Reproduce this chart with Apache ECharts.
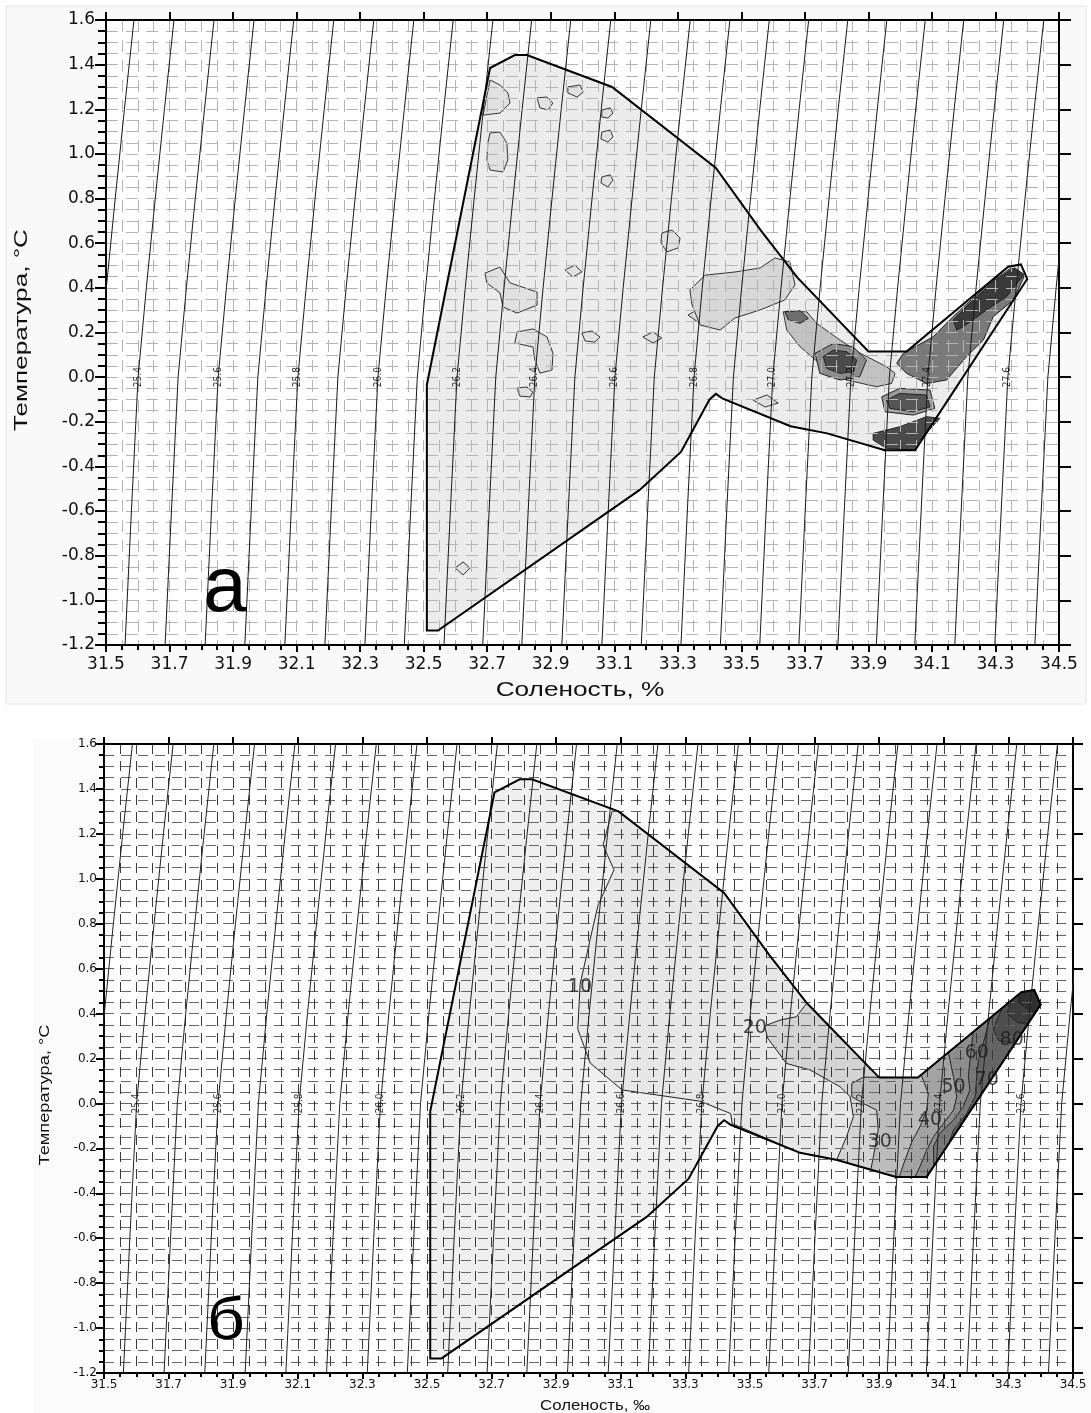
<!DOCTYPE html>
<html><head><meta charset="utf-8">
<script src="https://cdn.jsdelivr.net/npm/echarts@6/dist/echarts.min.js"></script>
<style>html,body{margin:0;padding:0;background:#fff}#c{width:1091px;height:1413px}</style>
</head><body><div id="c"></div>
<script>
// ---------- DATA ----------
const salinityExtent = [31.5, 34.5];
const temperatureExtent = [-1.2, 1.6];
const sigmaLevels = [25.3,25.4,25.5,25.6,25.7,25.8,25.9,26.0,26.1,26.2,26.3,26.4,26.5,26.6,26.7,26.8,26.9,27.0,27.1,27.2,27.3,27.4,27.5,27.6,27.7];
// salinity at T = 0 for each isopycnal
const sigmaS0 = [31.475,31.601,31.727,31.853,31.978,32.104,32.230,32.356,32.480,32.605,32.727,32.850,32.976,33.102,33.226,33.351,33.475,33.599,33.722,33.845,33.966,34.087,34.213,34.339,34.465];
// isopycnal shape: salinity shift vs temperature
const profileT  = [-1.2, -0.6, 0, 0.4, 0.8, 1.2, 1.6];
const profileDS = [-0.041, -0.021, 0, 0.026, 0.054, 0.083, 0.113];
const labeledSigmas = ['25.4','25.6','25.8','26.0','26.2','26.4','26.6','26.8','27.0','27.2','27.4','27.6'];

// outline of the data cloud (S, T)
const hull = [[32.51,-1.135],[32.545,-1.135],[33.18,-0.505],[33.31,-0.335],[33.40,-0.10],[33.42,-0.075],[33.44,-0.095],[33.655,-0.22],[33.77,-0.252],[33.952,-0.327],[34.047,-0.327],[34.40,0.44],[34.38,0.505],[34.34,0.495],[34.02,0.115],[33.90,0.115],[33.676,0.447],[33.56,0.66],[33.42,0.937],[33.093,1.30],[32.825,1.443],[32.787,1.443],[32.709,1.385],[32.51,-0.035]];

// panel "а": small contour patches
const patchA = [[32.709,1.094],[32.740,1.098],[32.762,1.049],[32.765,0.973],[32.750,0.919],[32.709,0.928],[32.699,0.973],[32.702,1.049]];
const patchB = [[32.709,1.331],[32.740,1.309],[32.765,1.273],[32.772,1.228],[32.740,1.183],[32.687,1.174]];
const patchC = [[32.857,1.251],[32.888,1.255],[32.907,1.228],[32.891,1.197],[32.866,1.206]];
const patchD = [[32.954,1.30],[32.992,1.309],[33.002,1.277],[32.983,1.255],[32.954,1.273]];
const patchE = [[33.061,1.197],[33.087,1.206],[33.096,1.183],[33.080,1.161],[33.061,1.165]];
const patchF = [[33.061,1.098],[33.087,1.107],[33.096,1.076],[33.080,1.053],[33.058,1.067]];
const patchG = [[33.061,0.897],[33.087,0.906],[33.096,0.883],[33.080,0.852],[33.058,0.870]];
const patchH = [[33.250,0.646],[33.282,0.659],[33.307,0.623],[33.301,0.579],[33.266,0.561],[33.247,0.601]];
const patchI = [[32.693,0.466],[32.740,0.493],[32.772,0.422],[32.857,0.381],[32.857,0.323],[32.794,0.287],[32.750,0.314],[32.740,0.377],[32.699,0.422]];
const patchJ = [[32.945,0.480],[32.976,0.502],[32.998,0.471],[32.970,0.449]];
const patchK = [[32.794,0.202],[32.844,0.216],[32.888,0.180],[32.907,0.108],[32.904,0.032],[32.866,0.018],[32.850,0.077],[32.844,0.135],[32.787,0.153]];
const patchL = [[32.794,-0.049],[32.825,-0.044],[32.844,-0.067],[32.835,-0.089],[32.803,-0.085]];
const patchM = [[32.998,0.198],[33.030,0.207],[33.055,0.180],[33.039,0.157],[33.008,0.162]];
const patchN = [[33.190,0.180],[33.222,0.202],[33.250,0.175],[33.222,0.153]];
const patchO = [[33.332,0.278],[33.370,0.310],[33.411,0.287],[33.401,0.247],[33.376,0.234]];
const patchP = [[33.537,-0.103],[33.581,-0.080],[33.616,-0.116],[33.575,-0.134]];
const patchQ = [[32.599,-0.855],[32.624,-0.828],[32.646,-0.855],[32.624,-0.886]];
const troughLight = [[33.338,0.390],[33.386,0.457],[33.480,0.471],[33.559,0.489],[33.606,0.534],[33.653,0.516],[33.669,0.413],[33.637,0.346],[33.559,0.301],[33.480,0.265],[33.433,0.211],[33.370,0.234],[33.345,0.323]];
const troughBand = [[33.632,0.293],[33.706,0.293],[33.737,0.241],[33.811,0.166],[33.874,0.107],[33.957,0.047],[33.984,0.017],[33.973,-0.028],[33.926,-0.043],[33.832,-0.013],[33.758,0.047],[33.685,0.136],[33.643,0.211]];
const troughRing = [[33.732,0.107],[33.790,0.151],[33.852,0.136],[33.894,0.077],[33.873,0.002],[33.811,-0.013],[33.747,0.017]];
const troughCore = [[33.758,0.092],[33.790,0.121],[33.832,0.114],[33.863,0.077],[33.853,0.024],[33.811,0.017],[33.769,0.039]];
const troughUpper = [[33.637,0.293],[33.685,0.298],[33.711,0.263],[33.685,0.241],[33.648,0.256]];
const armBand = [[34.010,0.107],[34.104,0.181],[34.167,0.271],[34.28,0.42],[34.35,0.49],[34.39,0.45],[34.356,0.345],[34.293,0.271],[34.262,0.166],[34.209,0.092],[34.146,-0.013],[34.083,-0.028],[34.020,0.017],[33.989,0.062]];
const armTip = [[34.167,0.256],[34.209,0.316],[34.29,0.425],[34.36,0.49],[34.39,0.46],[34.335,0.360],[34.272,0.301],[34.199,0.226],[34.178,0.211]];
const midRing = [[33.942,-0.088],[33.999,-0.050],[34.094,-0.058],[34.109,-0.140],[34.041,-0.170],[33.952,-0.155]];
const midCore = [[33.957,-0.103],[33.999,-0.073],[34.083,-0.080],[34.094,-0.133],[34.041,-0.155],[33.968,-0.14]];
const lowCore = [[33.915,-0.252],[33.999,-0.222],[34.083,-0.177],[34.125,-0.185],[34.062,-0.282],[34.041,-0.327],[33.957,-0.319],[33.915,-0.282]];

// panel "б": regions above each contour level
const region10 = [[33.073,1.30],[33.045,1.15],[33.079,1.04],[33.029,0.88],[33.005,0.73],[32.974,0.53],[32.967,0.33],[33.005,0.18],[33.104,0.06],[33.345,0.01],[33.44,-0.045],[33.445,-0.09],[33.655,-0.22],[33.77,-0.252],[33.952,-0.327],[34.047,-0.327],[34.40,0.44],[34.38,0.505],[34.34,0.495],[34.02,0.115],[33.90,0.115],[33.676,0.447],[33.56,0.66],[33.42,0.937],[33.093,1.30]];
const region20 = [[33.675,0.445],[33.644,0.386],[33.593,0.371],[33.545,0.345],[33.555,0.29],[33.613,0.178],[33.686,0.149],[33.779,0.074],[33.810,0.030],[33.820,-0.059],[33.799,-0.148],[33.768,-0.252],[33.952,-0.327],[34.047,-0.327],[34.40,0.44],[34.38,0.505],[34.34,0.495],[34.02,0.115],[33.90,0.115]];
const region30 = [[33.851,0.117],[33.815,0.089],[33.815,0.030],[33.851,0.0],[33.892,-0.030],[33.897,-0.118],[33.882,-0.237],[33.874,-0.295],[33.952,-0.327],[34.047,-0.327],[34.40,0.44],[34.38,0.505],[34.34,0.495],[34.02,0.115]];
const region40 = [[34.03,0.127],[34.052,0.045],[34.047,-0.030],[34.026,-0.104],[34.001,-0.171],[33.980,-0.252],[33.962,-0.327],[34.047,-0.327],[34.40,0.44],[34.38,0.505],[34.34,0.495]];
const region50 = [[34.114,0.227],[34.130,0.119],[34.140,0.030],[34.130,-0.030],[34.099,-0.089],[34.068,-0.148],[34.047,-0.208],[34.026,-0.282],[34.011,-0.327],[34.047,-0.327],[34.40,0.44],[34.38,0.505],[34.34,0.495]];
const region60 = [[34.191,0.318],[34.181,0.193],[34.176,0.119],[34.181,0.060],[34.160,-0.015],[34.130,-0.074],[34.088,-0.133],[34.068,-0.193],[34.069,-0.28],[34.40,0.44],[34.38,0.505],[34.34,0.495]];
const region70 = [[34.243,0.380],[34.222,0.267],[34.207,0.193],[34.202,0.119],[34.197,0.030],[34.171,-0.045],[34.130,-0.119],[34.116,-0.178],[34.40,0.44],[34.38,0.505],[34.34,0.495]];
const region80 = [[34.28,0.424],[34.253,0.33],[34.27,0.28],[34.32,0.267],[34.40,0.44],[34.38,0.505],[34.34,0.495]];
const region90 = [[34.31,0.459],[34.295,0.40],[34.33,0.36],[34.36,0.353],[34.40,0.44],[34.38,0.505],[34.34,0.495]];
const region100 = [[34.335,0.489],[34.33,0.45],[34.36,0.42],[34.385,0.405],[34.40,0.44],[34.38,0.505]];
const contourLabelText = ['10','20','30','40','50','60','70','80'];
const contourLabelS = [32.974, 33.515, 33.902, 34.057, 34.130, 34.202, 34.233, 34.310];
const contourLabelT = [0.52, 0.334, -0.170, -0.074, 0.074, 0.223, 0.104, 0.282];

// ---------- STYLE ----------
const topLayers = [
  [hull,'#ececec','none',0],
  [patchA,'#e1e1e1','#333',1],[patchB,'#e1e1e1','#333',1],[patchC,'#e1e1e1','#333',1],[patchD,'#e1e1e1','#333',1],
  [patchE,'#e1e1e1','#333',1],[patchF,'#e1e1e1','#333',1],[patchG,'#e1e1e1','#333',1],[patchH,'#e1e1e1','#333',1],
  [patchI,'#e1e1e1','#333',1],[patchJ,'#e1e1e1','#333',1],[patchK,'#e1e1e1','#333',1],[patchL,'#e1e1e1','#333',1],
  [patchM,'#e1e1e1','#333',1],[patchN,'#e1e1e1','#333',1],[patchO,'#d6d6d6','#333',1],[patchP,'#e1e1e1','#333',1],
  [patchQ,'#e1e1e1','#333',1],
  [troughLight,'#d7d7d7','#333',1],
  [troughBand,'#c2c2c2','#333',1],
  [troughUpper,'#6e6e6e','#222',1],
  [troughRing,'#8c8c8c','#222',1],
  [troughCore,'#4a4a4a','#222',1],
  [armBand,'#7a7a7a','#222',1],
  [armTip,'#3a3a3a','#222',1],
  [midRing,'#9a9a9a','#222',1],
  [midCore,'#555555','#222',1],
  [lowCore,'#4a4a4a','#222',1]
];
const bottomLayers = [
  [hull,'#efefef','none',0],
  [region10,'#e7e7e7','#222',1],
  [region20,'#d3d3d3','#222',1],
  [region30,'#bcbcbc','#222',1],
  [region40,'#a3a3a3','#222',1],
  [region50,'#8d8d8d','#222',1],
  [region60,'#787878','#222',1],
  [region70,'#646464','#222',1],
  [region80,'#4e4e4e','#222',1],
  [region90,'#3e3e3e','#222',1],
  [region100,'#2f2f2f','#222',1]
];

const panels = [
  {grid:{left:106, top:20, width:953, height:625}, gridV:'#b4b4b4', gridH:'#b4b4b4', dash:[12,8],
   xLab:17, yLab:17, xMargin:11, yMargin:11, xTick:7, xMinor:5, yTick:11, yMinor:8, topTick:8, rightTick:12, axisW:2, layers:topLayers, isoColor:'#1a1a1a', isoFont:10},
  {grid:{left:104, top:744, width:969, height:629}, gridV:'#3a3a3a', gridH:'#666', dash:[10,7],
   xLab:12, yLab:12, xMargin:6, yMargin:7, xTick:6, xMinor:4, yTick:8, yMinor:5, topTick:7, rightTick:10, axisW:2, layers:bottomLayers, isoColor:'#222', isoFont:10}
];

// ---------- OPTION ----------
const grids = [], xAxes = [], yAxes = [], series = [];
panels.forEach((p, gi) => {
  grids.push(Object.assign({show:true, backgroundColor:'#ffffff', borderWidth:0}, p.grid));
  const font = {fontFamily:'DejaVu Sans', color:'#111'};
  xAxes.push({type:'value', gridIndex:gi, position:'bottom', min:salinityExtent[0], max:salinityExtent[1], interval:0.2, z:3,
    axisLine:{show:true, onZero:false, lineStyle:{color:'#000', width:p.axisW}},
    axisTick:{show:true, length:p.xTick, lineStyle:{color:'#000', width:2}},
    minorTick:{show:true, splitNumber:4, length:p.xMinor, lineStyle:{color:'#000', width:2}},
    axisLabel:Object.assign({show:true, margin:p.xMargin, fontSize:p.xLab, formatter:v=>v.toFixed(1)}, font),
    splitLine:{show:true, lineStyle:{color:p.gridV, type:p.dash, width:1}},
    minorSplitLine:{show:true, lineStyle:{color:p.gridV, type:p.dash, width:1}}});
  xAxes.push({type:'value', gridIndex:gi, position:'top', min:salinityExtent[0], max:salinityExtent[1], interval:0.2, z:3,
    axisLine:{show:true, onZero:false, lineStyle:{color:'#000', width:p.axisW}},
    axisTick:{show:true, length:p.topTick, lineStyle:{color:'#000', width:2}},
    axisLabel:{show:false}, splitLine:{show:false}});
  yAxes.push({type:'value', gridIndex:gi, position:'left', min:temperatureExtent[0], max:temperatureExtent[1], interval:0.2, z:3,
    axisLine:{show:true, onZero:false, lineStyle:{color:'#000', width:p.axisW}},
    axisTick:{show:true, length:p.yTick, lineStyle:{color:'#000', width:2}},
    minorTick:{show:true, splitNumber:4, length:p.yMinor, lineStyle:{color:'#000', width:2}},
    axisLabel:Object.assign({show:true, margin:p.yMargin, fontSize:p.yLab, formatter:v=>v.toFixed(1)}, font),
    splitLine:{show:true, lineStyle:{color:p.gridH, type:p.dash, width:1}},
    minorSplitLine:{show:true, lineStyle:{color:p.gridH, type:p.dash, width:1}}});
  yAxes.push({type:'value', gridIndex:gi, position:'right', min:temperatureExtent[0], max:temperatureExtent[1], interval:0.2, z:3,
    axisLine:{show:true, onZero:false, lineStyle:{color:'#000', width:p.axisW}},
    axisTick:{show:true, length:p.rightTick, lineStyle:{color:'#000', width:2}},
    axisLabel:{show:false}, splitLine:{show:false}});
  const xi = gi*2, yi = gi*2;
  // filled contour regions
  series.push({type:'custom', coordinateSystem:'cartesian2d', xAxisIndex:xi, yAxisIndex:yi, z:1, silent:true, animation:false,
    data:p.layers.map((l,i)=>[l[0][0][0], l[0][0][1], i]), encode:{x:0,y:1},
    renderItem:(params, api)=>{ const l = p.layers[params.dataIndex];
      return {type:'polygon', shape:{points:l[0].map(q=>api.coord(q))}, style:{fill:l[1], stroke:l[2], lineWidth:l[3]}}; }});
  // isopycnals
  sigmaLevels.forEach((s, k) => {
    series.push({type:'line', xAxisIndex:xi, yAxisIndex:yi, z:4, silent:true, animation:false, symbol:'none', clip:true,
      lineStyle:{color:p.isoColor, width:1}, data:profileT.map((t,j)=>[sigmaS0[k]+profileDS[j], t])});
  });
  // data-cloud outline on top
  series.push({type:'custom', coordinateSystem:'cartesian2d', xAxisIndex:xi, yAxisIndex:yi, z:5, silent:true, animation:false,
    data:[[hull[0][0], hull[0][1]]], encode:{x:0,y:1},
    renderItem:(params, api)=>({type:'polygon', shape:{points:hull.map(q=>api.coord(q))}, style:{fill:'none', stroke:'#000', lineWidth:2}})});
  // isopycnal labels
  series.push({type:'scatter', xAxisIndex:xi, yAxisIndex:yi, z:6, silent:true, animation:false, symbolSize:1,
    itemStyle:{color:'rgba(0,0,0,0)'},
    label:{show:true, position:'inside', rotate:90, fontSize:p.isoFont, fontFamily:'DejaVu Sans Condensed, DejaVu Sans', color:'#000', formatter:d=>d.value[2]},
    data:labeledSigmas.map(lbl=>[sigmaS0[sigmaLevels.indexOf(parseFloat(lbl))], 0, lbl])});
});
// contour value labels for panel "б"
series.push({type:'scatter', xAxisIndex:2, yAxisIndex:2, z:7, silent:true, animation:false, symbolSize:1,
  itemStyle:{color:'rgba(0,0,0,0)'},
  label:{show:true, position:'inside', fontSize:19, fontFamily:'DejaVu Sans', color:'#1a1a1a', formatter:d=>d.value[2]},
  data:contourLabelText.map((t,i)=>[contourLabelS[i], contourLabelT[i], t])});

const option = {
  animation:false,
  backgroundColor:'#ffffff',
  grid:grids, xAxis:xAxes, yAxis:yAxes, series:series,
  graphic:{elements:[
    {type:'rect', z:-100, shape:{x:6, y:6, width:1080, height:698}, style:{fill:'#f9f9f9', stroke:'#e6e6e6', lineWidth:1}},
    {type:'rect', z:-100, shape:{x:33, y:738, width:1058, height:675}, style:{fill:'#fbfbfb'}},
    {type:'text', z:100, x:580, y:690, scaleX:1.25, style:{text:'Соленость, %', font:'21px "Liberation Sans", Arial, sans-serif', fill:'#111', align:'center', verticalAlign:'middle'}},
    {type:'text', z:100, x:22, y:330, rotation:Math.PI/2, scaleX:1.45, style:{text:'Температура, °С', font:'18px "Liberation Sans", Arial, sans-serif', fill:'#111', align:'center', verticalAlign:'middle'}},
    {type:'text', z:100, x:225, y:589, style:{text:'а', font:'78px "Liberation Sans", Arial, sans-serif', fill:'#000', align:'center', verticalAlign:'middle'}},
    {type:'text', z:100, x:595, y:1406, scaleX:1.2, style:{text:'Соленость, ‰', font:'14px "Liberation Sans", Arial, sans-serif', fill:'#111', align:'center', verticalAlign:'middle'}},
    {type:'text', z:100, x:45, y:1095, rotation:Math.PI/2, scaleX:1.3, style:{text:'Температура, °С', font:'14px "Liberation Sans", Arial, sans-serif', fill:'#111', align:'center', verticalAlign:'middle'}},
    {type:'text', z:100, x:226, y:1322, scaleX:1.1, style:{text:'б', font:'60px "Liberation Sans", Arial, sans-serif', fill:'#000', align:'center', verticalAlign:'middle'}}
  ]}
};
const chart = echarts.init(document.getElementById('c'), null, {renderer:'canvas'});
chart.setOption(option);
</script></body></html>
